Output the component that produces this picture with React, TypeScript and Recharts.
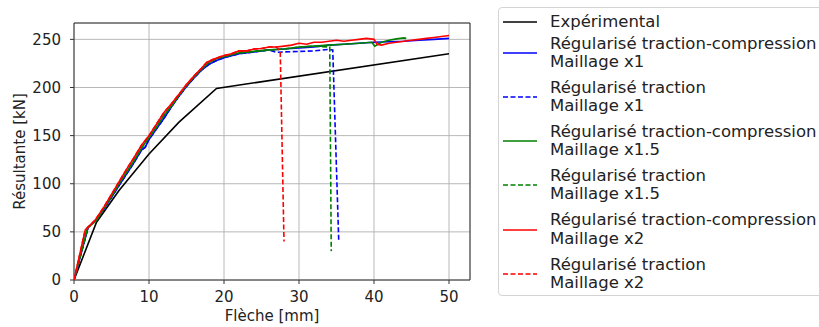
import React from 'react';
import { LineChart, Line, XAxis, YAxis, CartesianGrid, ReferenceArea } from 'recharts';

const FONT = "'DejaVu Sans', 'Liberation Sans', sans-serif";
const BLUE = '#0000ff';
const GREEN = '#008000';
const RED = '#ff0000';
const BLACK = '#000000';

const xTicks = [0, 10, 20, 30, 40, 50];
const yTicks = [0, 50, 100, 150, 200, 250];
const X_MAX = 52.8;
const Y_MAX = 267;

// Expérimental
const expX = [0, 3, 6, 10, 14, 19, 50];
const expY = [0, 60, 93, 131, 164, 199, 235];

// Régularisé traction-compression, Maillage x1
const rtc1X = [0, 1.9, 3, 4, 5, 6, 7, 8, 9, 9.5, 10, 11, 12, 13, 14, 15, 16, 17, 18, 19, 20, 21, 22, 24, 26, 28, 30, 32, 34, 36, 38, 40, 42, 44, 46, 48, 50];
const rtc1Y = [0, 55, 63, 74, 86, 98, 110, 122, 135, 138, 146, 157, 168, 180, 191, 201, 210, 218, 224, 228, 231, 233, 235, 237, 239, 240, 241, 242, 244, 245, 246, 247, 247.5, 248, 249, 250, 251];

// Régularisé traction, Maillage x1
const rt1X = [0, 1.9, 3, 4, 5, 6, 7, 8, 9, 9.5, 10, 11, 12, 13, 14, 15, 16, 17, 18, 19, 20, 21, 22, 24, 26, 27, 28, 30, 32, 33.9, 34.5, 35.3];
const rt1Y = [0, 55, 63, 74, 86, 98, 110, 122, 135, 138, 146, 157, 168, 180, 191, 201, 210, 218, 224, 228, 231, 233, 235, 237, 239, 236.5, 237, 237.5, 238, 239.5, 239, 40];

// Régularisé traction-compression, Maillage x1.5
const rtc15X = [0, 1.8, 3, 4, 5, 6, 7, 8, 9, 10, 11, 12, 13, 14, 15, 16, 17, 18, 19, 20, 22, 24, 26, 28, 30, 32, 34, 36, 38, 39.7, 40.1, 41, 42, 43, 44, 44.3];
const rtc15Y = [0, 54, 62, 75, 87, 100, 112, 124, 137, 148, 159, 171, 181, 192, 202, 211, 219, 226, 230, 232, 236, 237.5, 239, 240, 242, 243, 244, 245, 246, 247, 243, 247, 249, 250.5, 251.5, 251];

// Régularisé traction, Maillage x1.5
const rt15X = [0, 1.8, 3, 4, 5, 6, 7, 8, 9, 10, 11, 12, 13, 14, 15, 16, 17, 18, 19, 20, 22, 24, 26, 28, 30, 32, 33, 34.1, 34.3];
const rt15Y = [0, 54, 62, 75, 87, 100, 112, 124, 137, 148, 159, 171, 181, 192, 202, 211, 219, 226, 230, 232, 236, 237.5, 239, 240, 242, 243, 242.5, 242, 30];

// Régularisé traction-compression, Maillage x2
const rtc2X = [0, 1.5, 2.8, 4, 5, 6, 7, 8, 9, 10, 11, 12, 13, 14, 15, 16, 17, 17.7, 18.5, 19.9, 21, 22, 23, 24, 25, 26, 27, 28, 29, 30, 31, 32, 33, 34, 35, 36, 37, 38, 39, 40, 40.4, 41, 42, 43, 44, 45, 46, 47, 48, 49, 50];
const rtc2Y = [0, 52, 62, 76, 89, 102, 115, 127, 140, 150, 162, 174, 183, 193, 203, 212, 220, 226, 229, 233, 235, 238, 238, 240, 240.5, 242, 242, 243, 244, 246, 245, 247, 247, 248, 249, 248, 249, 250, 251, 250, 245, 244, 246, 247, 248, 249, 250, 251, 252, 253, 254];

// Régularisé traction, Maillage x2
const rt2X = [0, 1.5, 2.8, 4, 5, 6, 7, 8, 9, 10, 11, 12, 13, 14, 15, 16, 17, 17.7, 18.5, 19.9, 21, 22, 23, 24, 25, 26, 27, 27.5, 28];
const rt2Y = [0, 52, 62, 76, 89, 102, 115, 127, 140, 150, 162, 174, 183, 193, 203, 212, 220, 226, 229, 233, 235, 238, 238, 240, 240.5, 242, 242, 237, 40];

const zip = (xs: number[], ys: number[]) => xs.map((x, i) => ({ x, y: ys[i] }));

const series = [
  { key: 'exp', data: zip(expX, expY), color: BLACK, dashed: false, label: ['Expérimental'] },
  { key: 'rtc1', data: zip(rtc1X, rtc1Y), color: BLUE, dashed: false, label: ['Régularisé traction-compression', 'Maillage x1'] },
  { key: 'rt1', data: zip(rt1X, rt1Y), color: BLUE, dashed: true, label: ['Régularisé traction', 'Maillage x1'] },
  { key: 'rtc15', data: zip(rtc15X, rtc15Y), color: GREEN, dashed: false, label: ['Régularisé traction-compression', 'Maillage x1.5'] },
  { key: 'rt15', data: zip(rt15X, rt15Y), color: GREEN, dashed: true, label: ['Régularisé traction', 'Maillage x1.5'] },
  { key: 'rtc2', data: zip(rtc2X, rtc2Y), color: RED, dashed: false, label: ['Régularisé traction-compression', 'Maillage x2'] },
  { key: 'rt2', data: zip(rt2X, rt2Y), color: RED, dashed: true, label: ['Régularisé traction', 'Maillage x2'] },
];

const DASH = '5 2.5';
const FS = 15;
const LEG_FS = 16.5;

const YLabel = (props: any) => {
  const vb = props.viewBox || {};
  const cx = 20;
  const cy = vb.y + vb.height / 2;
  return (
    <text x={cx} y={cy} transform={`rotate(-90, ${cx}, ${cy})`} textAnchor="middle" dominantBaseline="central"
      fontFamily={FONT} fontSize={FS} fill="#222">Résultante [kN]</text>
  );
};

const XLabel = (props: any) => {
  const vb = props.viewBox || {};
  const cx = vb.x + vb.width / 2;
  return (
    <text x={cx} y={316} textAnchor="middle" dominantBaseline="central" fontFamily={FONT} fontSize={FS} fill="#222">Flèche [mm]</text>
  );
};

const LegendBox = () => (
  <div style={{
    position: 'absolute', left: 498, top: 7, width: 340, height: 289, boxSizing: 'border-box',
    border: '1px solid #d4d4d4', borderRadius: 4, background: '#fff', fontFamily: FONT, fontSize: LEG_FS,
    color: '#222', paddingTop: 4.5,
  }}>
    {series.map((s, i) => (
      <div key={s.key} style={{ display: 'flex', alignItems: 'center', marginTop: i === 0 ? 0 : i === 1 ? 3.8 : 7.6 }}>
        <svg width={34} height={6} style={{ marginLeft: 4, flex: 'none' }}>
          <line x1={0} x2={34} y1={3} y2={3} stroke={s.color} strokeWidth={1.6} strokeDasharray={s.dashed ? DASH : undefined} />
        </svg>
        <div style={{ marginLeft: 13, lineHeight: '18.3px', whiteSpace: 'nowrap' }}>
          {s.label.map((l, j) => <div key={j}>{l}</div>)}
        </div>
      </div>
    ))}
  </div>
);

export default function App() {
  return (
    <div style={{ position: 'absolute', left: 0, top: 0, width: 819, height: 327, overflow: 'hidden', background: '#fff' }}>
      <LineChart width={819} height={327} margin={{ top: 23, right: 349, bottom: 0, left: 0 }}>
        <CartesianGrid stroke="#b0b0b0" strokeWidth={0.9} />
        <XAxis type="number" dataKey="x" domain={[0, X_MAX]} ticks={xTicks} allowDataOverflow height={47}
          tick={{ fontFamily: FONT, fontSize: FS, fill: '#222' }} tickSize={4} tickMargin={7}
          stroke="#333" axisLine={false} label={<XLabel />} />
        <YAxis type="number" dataKey="y" domain={[0, Y_MAX]} ticks={yTicks} allowDataOverflow width={74}
          tick={{ fontFamily: FONT, fontSize: FS, fill: '#222' }} tickSize={4} tickMargin={9}
          stroke="#333" axisLine={false} label={<YLabel />} />
        {series.map((s) => (
          <Line key={s.key} data={s.data} dataKey="y" type="linear" stroke={s.color} strokeWidth={1.6}
            strokeDasharray={s.dashed ? DASH : undefined} dot={false} activeDot={false} isAnimationActive={false} />
        ))}
        <ReferenceArea x1={0} x2={X_MAX} y1={0} y2={Y_MAX} stroke="#333" strokeWidth={1} fill="none" fillOpacity={0} ifOverflow="visible" />
      </LineChart>
      <LegendBox />
    </div>
  );
}
